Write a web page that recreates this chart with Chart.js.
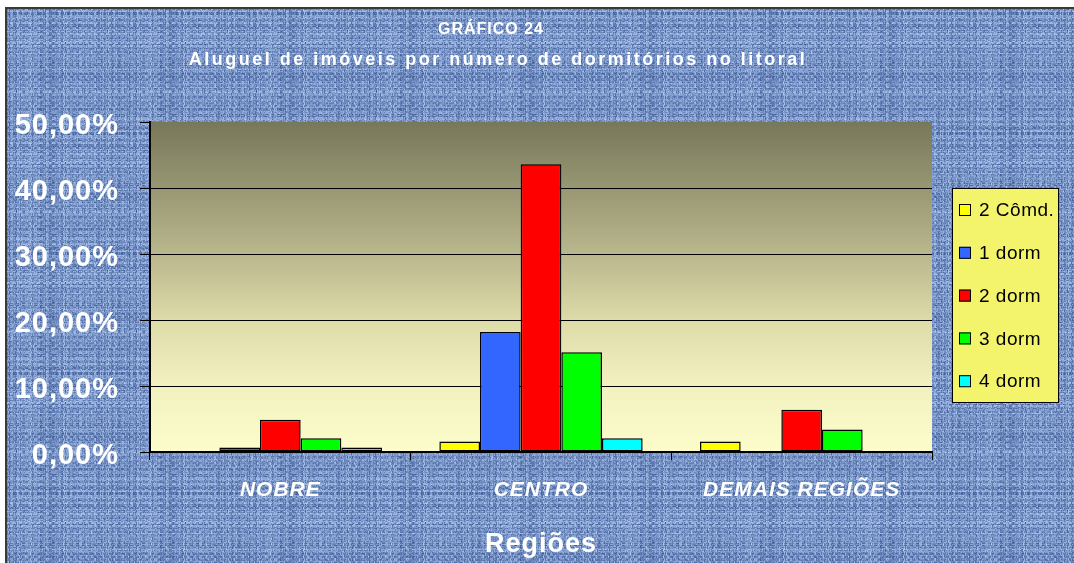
<!DOCTYPE html>
<html>
<head>
<meta charset="utf-8">
<script src="https://cdn.jsdelivr.net/npm/chart.js@4.4.1/dist/chart.umd.min.js"></script>
<style>
  html, body { margin: 0; padding: 0; background: #fff; overflow: hidden; }
  #frame { position: absolute; left: 5px; top: 7px; right: 0; bottom: 0; border-left: 2px solid #3a3a3a; border-top: 2px solid #3a3a3a; }
  #wrap { position: absolute; left: 0; top: 0; width: 1074px; height: 563px; }
</style>
</head>
<body>
<div id="frame"></div>
<div id="wrap"><canvas id="chart"></canvas></div>
<script>
const regions = ["NOBRE", "CENTRO", "DEMAIS REGIÕES"];
const seriesNames = ["2 Cômd.", "1 dorm", "2 dorm", "3 dorm", "4 dorm"];
const seriesColors = ["#ffff00", "#3366ff", "#ff0000", "#00ff00", "#00ffff"];
const comd2 = [0, 1.6, 1.6];
const dorm1 = [0.7, 18.2, 0];
const dorm2 = [4.9, 43.6, 6.4];
const dorm3 = [2.1, 15.1, 3.4];
const dorm4 = [0.7, 2.1, 0];
const yTicks = [0, 10, 20, 30, 40, 50];

const FONT = '"Liberation Sans", Arial, sans-serif';

// denim-like texture for the background
function makeTexture() {
  const size = 120;
  const t = document.createElement("canvas");
  t.width = t.height = size;
  const c = t.getContext("2d");
  const img = c.createImageData(size, size);
  let s = 12345;
  const rnd = () => (s = (s * 16807) % 2147483647) / 2147483647;
  const rows = Array.from({ length: size }, rnd);
  const cols = Array.from({ length: size }, rnd);
  for (let y = 0; y < size; y++) {
    for (let x = 0; x < size; x++) {
      const weave = (Math.floor(x / 3) + Math.floor(y / 3)) % 2 ? rows[y] : cols[x];
      const v = Math.min(1, Math.max(0, 0.6 * weave + 0.4 * rnd()));
      const i = (y * size + x) * 4;
      img.data[i] = 60 + v * 120;
      img.data[i + 1] = 90 + v * 115;
      img.data[i + 2] = 150 + v * 95;
      img.data[i + 3] = 255;
    }
  }
  c.putImageData(img, 0, 0);
  return t.toDataURL();
}
document.getElementById("frame").style.backgroundImage = "url(" + makeTexture() + ")";

const plotBackground = {
  id: "plotBackground",
  beforeDraw(chart) {
    const { ctx, chartArea: a } = chart;
    const g = ctx.createLinearGradient(0, a.top, 0, a.bottom);
    g.addColorStop(0, "#77775a");
    g.addColorStop(0.4, "#b9b78c");
    g.addColorStop(0.6, "#dddba8");
    g.addColorStop(0.8, "#f2f1c0");
    g.addColorStop(1, "#fdfccb");
    ctx.save();
    ctx.fillStyle = g;
    ctx.fillRect(a.left, a.top, a.right - a.left, a.bottom - a.top);
    ctx.restore();
    // the original text is rendered slightly loose
    ctx.letterSpacing = "1px";
  }
};

const extras = {
  id: "extras",
  afterDraw(chart) {
    const ctx = chart.ctx;
    ctx.save();
    // titles
    ctx.fillStyle = "#fff";
    ctx.textAlign = "center";
    ctx.textBaseline = "middle";
    ctx.font = "bold 16px " + FONT;
    ctx.letterSpacing = "1px";
    ctx.fillText("GRÁFICO 24", 491, 30);
    ctx.font = "bold 18px " + FONT;
    ctx.letterSpacing = "2.5px";
    ctx.fillText("Aluguel de imóveis por número de dormitórios no litoral", 498, 60);

    // legend
    ctx.fillStyle = "#f4f46c";
    ctx.fillRect(952, 188, 107, 215);
    ctx.strokeStyle = "#000";
    ctx.lineWidth = 1;
    ctx.strokeRect(952.5, 188.5, 106, 214);
    ctx.font = "19px " + FONT;
    ctx.letterSpacing = "0.5px";
    ctx.textAlign = "left";
    chart.data.datasets.forEach((ds, i) => {
      const y = 210 + i * 42.8;
      ctx.fillStyle = ds.backgroundColor;
      ctx.fillRect(959, y - 6, 12, 12);
      ctx.strokeRect(959.5, y - 5.5, 11, 11);
      ctx.fillStyle = "#000";
      ctx.fillText(ds.label, 979, y + 1);
    });
    ctx.restore();
    ctx.letterSpacing = "0px";
  }
};

const seriesValues = [comd2, dorm1, dorm2, dorm3, dorm4];

new Chart(document.getElementById("chart"), {
  type: "bar",
  data: {
    labels: regions,
    datasets: seriesNames.map((name, i) => ({
      label: name,
      data: seriesValues[i],
      backgroundColor: seriesColors[i],
      borderColor: "#000",
      borderWidth: 1.5,
      borderSkipped: false,
      categoryPercentage: 0.78,
      barPercentage: 1
    }))
  },
  options: {
    responsive: true,
    maintainAspectRatio: false,
    animation: false,
    layout: { padding: { top: 122, right: 142, left: 0, bottom: 0 } },
    plugins: {
      legend: { display: false },
      title: { display: false },
      tooltip: { enabled: false }
    },
    scales: {
      x: {
        afterFit(s) { s.height = 111; },
        border: { color: "#000", width: 2 },
        grid: { display: true, drawOnChartArea: false, offset: true, tickLength: 8, color: "#000" },
        ticks: { color: "#fff", padding: 18, font: { family: FONT, size: 21, weight: "bold", style: "italic" } },
        title: { display: true, text: "Regiões", color: "#fff", padding: { top: 0, bottom: 2 }, font: { family: FONT, size: 27, weight: "bold" } }
      },
      y: {
        min: 0,
        max: 50,
        afterFit(s) { s.width = 150; },
        afterBuildTicks(s) { s.ticks = yTicks.map(v => ({ value: v })); },
        border: { color: "#000", width: 2 },
        grid: {
          color: c => (c.tick && c.tick.value === 50 ? "rgba(0,0,0,0)" : "#000"),
          tickColor: "#000",
          tickLength: 10,
          lineWidth: 1
        },
        ticks: {
          color: "#fff",
          padding: 21,
          labelOffset: 4,
          font: { family: FONT, size: 29, weight: "bold" },
          callback: v => v.toFixed(2).replace(".", ",") + "%"
        }
      }
    }
  },
  plugins: [plotBackground, extras]
});
</script>
</body>
</html>
